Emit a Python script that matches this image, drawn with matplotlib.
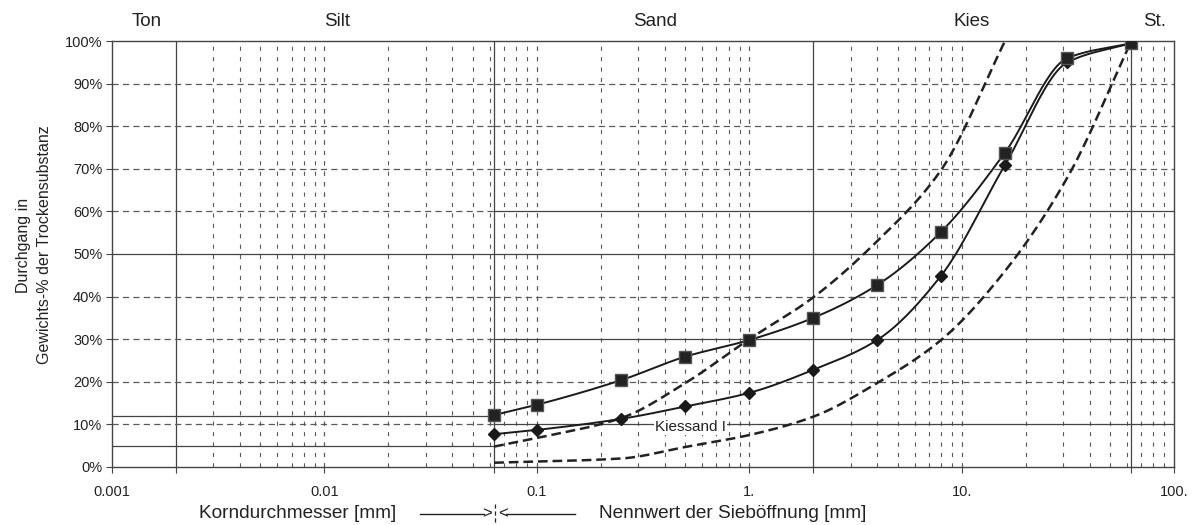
import numpy as np
import matplotlib
matplotlib.use("Agg")
import matplotlib.pyplot as plt
from matplotlib.lines import Line2D

plt.rcParams['font.family'] = ['Liberation Sans', 'DejaVu Sans']
plt.rcParams['lines.scale_dashes'] = False

# ---------------- data ----------------
sieve_sizes = [0.063, 0.1, 0.25, 0.5, 1, 2, 4, 8, 16, 31.5, 63]
passing_square = [12.2, 14.6, 20.4, 25.9, 29.8, 35.0, 42.7, 55.2, 73.8, 96.0, 99.5]
passing_diamond = [7.7, 8.7, 11.3, 14.2, 17.4, 22.8, 29.8, 44.9, 70.9, 95.0, 99.5]

upper_sizes = [0.063, 0.1, 0.25, 0.5, 1, 2, 4, 8, 16]
upper_limit = [4.8, 6.8, 11.5, 19.7, 30.0, 39.8, 53.0, 69.7, 100.0]
lower_sizes = [0.063, 0.25, 0.5, 1, 2, 4, 8, 16, 31.5, 63]
lower_limit = [1.0, 2.0, 4.7, 7.5, 11.8, 19.7, 29.8, 46.0, 68.0, 100.0]

zone_labels = ["Ton", "Silt", "Sand", "Kies", "St."]
zone_label_x = [0.00145, 0.0115, 0.359, 11.1, 81]
x_tick_values = [0.001, 0.01, 0.1, 1, 10, 100]
x_tick_labels = ["0.001", "0.01", "0.1", "1.", "10.", "100."]
y_tick_values = [0, 10, 20, 30, 40, 50, 60, 70, 80, 90, 100]
y_tick_labels = [f"{v}%" for v in y_tick_values]
curve_label = "Kiessand I"


def pchip(x, y, xn):
    x = np.asarray(x, float); y = np.asarray(y, float)
    h = np.diff(x); d = np.diff(y) / h
    n = len(x)
    m = np.zeros(n)
    for k in range(1, n - 1):
        if d[k - 1] * d[k] > 0:
            w1 = 2 * h[k] + h[k - 1]; w2 = h[k] + 2 * h[k - 1]
            m[k] = (w1 + w2) / (w1 / d[k - 1] + w2 / d[k])
    m[0] = d[0]; m[-1] = d[-1]
    out = np.empty_like(xn)
    idx = np.clip(np.searchsorted(x, xn) - 1, 0, n - 2)
    for j, (xv, k) in enumerate(zip(xn, idx)):
        t = (xv - x[k]) / h[k]
        h00 = 2 * t**3 - 3 * t**2 + 1; h10 = t**3 - 2 * t**2 + t
        h01 = -2 * t**3 + 3 * t**2; h11 = t**3 - t**2
        out[j] = h00 * y[k] + h10 * h[k] * m[k] + h01 * y[k + 1] + h11 * h[k] * m[k + 1]
    return out


def smooth(xs, ys, n=300):
    lx = np.log10(xs)
    ln = np.linspace(lx[0], lx[-1], n)
    return 10 ** ln, pchip(lx, ys, ln)


fig = plt.figure(figsize=(11.93, 5.25), dpi=100)
ax = fig.add_axes([0.0939, 0.1105, 0.8902, 0.8114])
ax.set_xscale('log')
ax.set_xlim(0.001, 100)
ax.set_ylim(0, 100)

gcol = '#5a5a5a'
scol = '#444444'
hd = (0, (4.5, 3.0))
vd = (0, (3.0, 4.5))

# vertical grid
solid_v = [0.002, 0.063, 2, 63]
for dec in [0.001, 0.01, 0.1, 1, 10]:
    for mlt in range(1, 11):
        v = dec * mlt
        if v <= 0.001 or v >= 100:
            continue
        if any(abs(v - s) / s < 1e-6 for s in solid_v):
            continue
        ax.axvline(v, color=gcol, lw=0.8, ls=vd, zorder=1)
for s in solid_v:
    ax.axvline(s, color=scol, lw=0.9, zorder=1)

# horizontal grid (two regions split at 0.063 mm)
left_solid = [5, 12, 50]
left_dash = [10, 20, 30, 40, 60, 70, 80, 90]
right_solid = [10, 30, 50, 60]
right_dash = [20, 40, 70, 80, 90]
for yv in left_solid:
    ax.plot([0.001, 0.063], [yv, yv], color=scol, lw=0.9, zorder=1)
for yv in left_dash:
    ax.plot([0.001, 0.063], [yv, yv], color=gcol, lw=0.9, ls=hd, zorder=1)
for yv in right_solid:
    ax.plot([0.063, 100], [yv, yv], color=scol, lw=0.9, zorder=1)
for yv in right_dash:
    ax.plot([0.063, 100], [yv, yv], color=gcol, lw=0.9, ls=hd, zorder=1)

# limit curves
ux, uy = smooth(upper_sizes, upper_limit)
ax.plot(ux, uy, color='#222222', lw=1.8, ls=(0, (7, 3.5)), zorder=3)
lx_, ly_ = smooth(lower_sizes, lower_limit)
ax.plot(lx_, ly_, color='#222222', lw=1.8, ls=(0, (7, 3.5)), zorder=3)

# grading curves
sx, sy = smooth(sieve_sizes, passing_square)
ax.plot(sx, sy, color='#1a1a1a', lw=1.4, zorder=4)
dx, dy = smooth(sieve_sizes, passing_diamond)
ax.plot(dx, dy, color='#1a1a1a', lw=1.4, zorder=4)
ax.plot(sieve_sizes, passing_diamond, ls='none', marker='D', ms=6, color='#1a1a1a', zorder=5)
ax.plot(sieve_sizes, passing_square, ls='none', marker='s', ms=9, mfc='#222222',
        mec='#555555', mew=1.0, zorder=6)

ax.text(0.36, 9.3, curve_label, fontsize=11, ha='left', va='center', color='#222222',
        bbox=dict(facecolor='white', edgecolor='none', pad=0.5), zorder=4)

# axes styling
for sp in ax.spines.values():
    sp.set_color(scol)
    sp.set_linewidth(1.0)
ax.set_yticks(y_tick_values)
ax.set_yticklabels(y_tick_labels, fontsize=10.5, color='#222222')
ax.set_xticks(x_tick_values + [0.002, 0.063, 2, 63])
ax.set_xticklabels(x_tick_labels + ["", "", "", ""], fontsize=10.5, color='#222222')
ax.xaxis.set_minor_locator(matplotlib.ticker.NullLocator())
ax.tick_params(axis='both', direction='out', length=4, color=scol, width=0.8)
ax.tick_params(axis='x', pad=9)
ax.tick_params(axis='y', pad=3)

# zone labels on top
for lab, xv in zip(zone_labels, zone_label_x):
    ax.text(xv, 1.0 + 20 / 426, lab, transform=ax.get_xaxis_transform(), fontsize=13.5,
            ha='center', va='center', color='#222222')

# y label
fig.text(0.0285, 0.533, "Durchgang in\nGewichts-% der Trockensubstanz", rotation=90,
         ha='center', va='center', multialignment='center', fontsize=11.5,
         linespacing=1.45, color='#222222')

# bottom labels
W, H = 1193.0, 525.0
yb = 1 - 514 / H
fig.text(298 / W, yb, "Korndurchmesser [mm]", ha='center', va='center', fontsize=13.7, color='#222222')
fig.text(733 / W, yb, "Nennwert der Sieböffnung [mm]", ha='center', va='center', fontsize=13.7, color='#222222')
fig.add_artist(Line2D([420 / W, 484 / W], [yb, yb], color='#222222', lw=1.0))
fig.add_artist(Line2D([506 / W, 575 / W], [yb, yb], color='#222222', lw=1.0))
fig.text(492 / W, yb, ">", ha='right', va='center', fontsize=12, color='#222222')
fig.text(498 / W, yb, "<", ha='left', va='center', fontsize=12, color='#222222')
fig.add_artist(Line2D([495 / W, 495 / W], [1 - 504 / H, 1 - 524 / H], color='#222222', lw=0.9,
                      ls=(0, (3, 2))))

fig.savefig("out.png", dpi=100, facecolor='white')
